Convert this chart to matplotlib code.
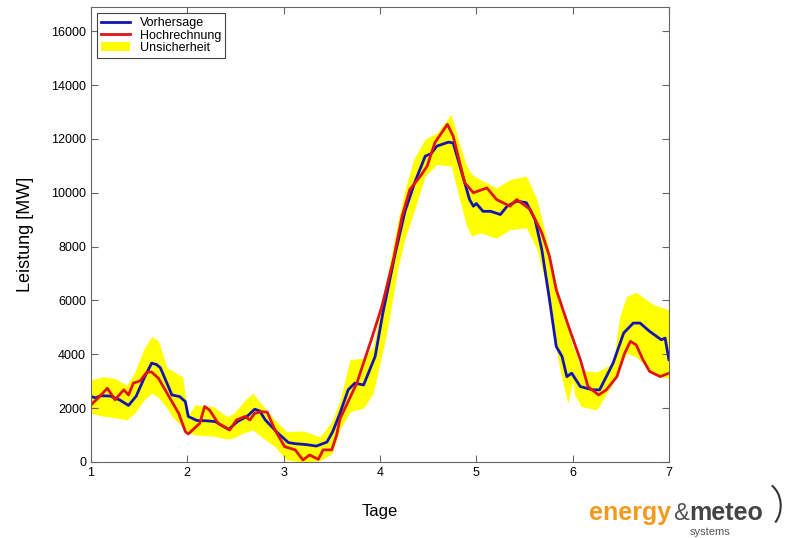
import numpy as np
import matplotlib
matplotlib.use("Agg")
import matplotlib.pyplot as plt
from matplotlib.patches import Arc

plt.rcParams['font.family'] = ['Liberation Sans', 'DejaVu Sans']

# Vorhersage (forecast), day -> MW
fc_days = [1.00, 1.05, 1.10, 1.20, 1.30, 1.39, 1.47, 1.55, 1.63, 1.68, 1.72, 1.78,
           1.84, 1.92, 1.98, 2.01, 2.10, 2.20, 2.29, 2.36, 2.43, 2.52, 2.62, 2.70,
           2.75, 2.81, 2.94, 3.05, 3.12, 3.24, 3.34, 3.45, 3.51, 3.585, 3.67, 3.74,
           3.83, 3.95, 4.03, 4.16, 4.26, 4.36, 4.47, 4.53, 4.59, 4.71, 4.76, 4.83,
           4.88, 4.93, 4.97, 5.00, 5.07, 5.15, 5.25, 5.32, 5.42, 5.52, 5.61, 5.68,
           5.76, 5.83, 5.89, 5.94, 5.99, 6.08, 6.21, 6.28, 6.35, 6.42, 6.53, 6.63,
           6.70, 6.80, 6.92, 6.96, 7.00]
fc_mw = [2430, 2380, 2460, 2450, 2300, 2100, 2450, 3100, 3670, 3620, 3500, 3000,
         2490, 2430, 2240, 1690, 1540, 1530, 1500, 1350, 1210, 1500, 1690, 1960,
         1900, 1560, 1070, 720, 680, 644, 590, 740, 1130, 1810, 2680, 2930,
         2860, 3920, 5530, 7770, 9310, 10370, 11360, 11450, 11730, 11880, 11850, 10990,
         10370, 9750, 9500, 9600, 9310, 9310, 9190, 9500, 9690, 9630, 9000, 7890,
         6030, 4290, 3920, 3170, 3300, 2800, 2680, 2680, 3170, 3670, 4790, 5160,
         5160, 4850, 4540, 4600, 3800]

# Hochrechnung (extrapolation), day -> MW
hr_days = [1.00, 1.09, 1.17, 1.25, 1.34, 1.39, 1.44, 1.51, 1.58, 1.63, 1.70, 1.79,
           1.91, 1.98, 2.01, 2.13, 2.18, 2.23, 2.32, 2.44, 2.51, 2.60, 2.65, 2.70,
           2.77, 2.83, 2.91, 3.01, 3.12, 3.20, 3.27, 3.36, 3.41, 3.50, 3.55, 3.585,
           3.76, 3.91, 4.02, 4.14, 4.23, 4.31, 4.42, 4.49, 4.57, 4.70, 4.76, 4.88,
           4.97, 5.11, 5.21, 5.35, 5.42, 5.56, 5.68, 5.76, 5.83, 5.97, 6.08, 6.16,
           6.27, 6.35, 6.46, 6.54, 6.60, 6.66, 6.73, 6.80, 6.91, 7.00]
hr_mw = [2120, 2430, 2740, 2310, 2680, 2490, 2930, 3010, 3340, 3340, 3110, 2555,
         1810, 1130, 1040, 1440, 2060, 1930, 1440, 1190, 1560, 1690, 1560, 1810,
         1870, 1850, 1190, 570, 450, 74, 260, 100, 450, 450, 1000, 1600,
         2930, 4540, 5780, 7520, 9130, 10120, 10620, 10990, 11860, 12540, 12100, 10370,
         10000, 10180, 9750, 9500, 9750, 9380, 8510, 7640, 6400, 4910, 3800, 2800,
         2490, 2680, 3170, 4040, 4480, 4350, 3800, 3360, 3170, 3300]

# Unsicherheit (uncertainty band)
band_days = [1.00, 1.13, 1.25, 1.37, 1.45, 1.55, 1.63, 1.70, 1.79, 1.84, 1.95, 2.01,
             2.08, 2.27, 2.41, 2.48, 2.60, 2.68, 2.82, 2.91, 3.03, 3.20, 3.38, 3.50,
             3.585, 3.69, 3.83, 3.93, 4.07, 4.19, 4.26, 4.35, 4.47, 4.59, 4.74, 4.81,
             4.90, 4.95, 5.04, 5.21, 5.35, 5.52, 5.63, 5.73, 5.80, 5.87, 5.95, 6.00,
             6.02, 6.09, 6.25, 6.42, 6.49, 6.56, 6.66, 6.84, 6.94, 7.00]
band_hi = [3050, 3170, 3100, 2850, 3300, 4200, 4660, 4500, 3500, 3400, 3170, 1750,
           2120, 2060, 1690, 1800, 2300, 2555, 1935, 1560, 1130, 1150, 940, 1500,
           2300, 3800, 3860, 4300, 6800, 9000, 10120, 11240, 12000, 12220, 12910, 12000,
           10990, 10700, 10490, 10180, 10490, 10620, 9750, 8260, 7000, 6030, 5000, 4300,
           4170, 3400, 3340, 3670, 5410, 6150, 6300, 5840, 5720, 5660]
band_lo = [1810, 1700, 1650, 1560, 1800, 2300, 2555, 2400, 1990, 1700, 1300, 1130,
           1000, 960, 850, 900, 1100, 1190, 800, 570, 74, 0, 50, 300,
           1200, 1870, 2000, 2555, 4790, 7270, 8300, 9260, 10620, 11050, 10990, 10000,
           8760, 8390, 8510, 8320, 8630, 8700, 7900, 6500, 4800, 3400, 2180, 3000,
           2500, 2060, 1935, 2930, 3600, 4040, 3900, 3300, 3150, 3110]

fig = plt.figure(figsize=(7.87, 5.38), dpi=100)
ax = fig.add_axes([0.1156, 0.1413, 0.7344, 0.8457])

ax.fill_between(band_days, band_lo, band_hi, color='#ffff00', linewidth=0,
                label='Unsicherheit')
ax.plot(fc_days, fc_mw, color='#1414b4', lw=2.0, label='Vorhersage')
ax.plot(hr_days, hr_mw, color='#e01414', lw=2.0, label='Hochrechnung')

ax.set_xlim(1, 7)
ax.set_ylim(0, 16900)
ax.set_xticks(range(1, 8))
ax.set_yticks(range(0, 16001, 2000))
ax.tick_params(direction='in', top=True, right=True, length=5, labelsize=9,
               color='#666666')
for s in ax.spines.values():
    s.set_color('#666666')

ax.set_xlabel('Tage', fontsize=12, labelpad=18)
ax.set_ylabel('Leistung [MW]', fontsize=13, labelpad=12)

h, l = ax.get_legend_handles_labels()
order = [1, 2, 0]
leg = ax.legend([h[i] for i in order], [l[i] for i in order], loc='upper left',
                fontsize=9, fancybox=False, framealpha=1, borderaxespad=0.5,
                handlelength=2.3, labelspacing=0.05, borderpad=0.3)
leg.get_frame().set_edgecolor('#444444')
leg.get_frame().set_linewidth(0.8)

# logo: chain the pieces one after the other
fig.canvas.draw()
r = fig.canvas.get_renderer()
t1 = fig.text(0.749, 0.033, 'energy', color='#f39a1e', fontsize=18, fontweight='bold')
x = t1.get_window_extent(r).x1 / fig.bbox.width + 0.002
t2 = fig.text(x, 0.033, '&', color='#555555', fontsize=17)
x = t2.get_window_extent(r).x1 / fig.bbox.width + 0.001
t3 = fig.text(x, 0.033, 'meteo', color='#444444', fontsize=18, fontweight='bold')
fig.text(0.877, 0.006, 'systems', color='#555555', fontsize=8)
fig.add_artist(Arc((0.967, 0.06), 0.05, 0.09, theta1=-60, theta2=70,
                   transform=fig.transFigure, color='#333333', lw=1.5))

fig.savefig('out.png', dpi=100)
